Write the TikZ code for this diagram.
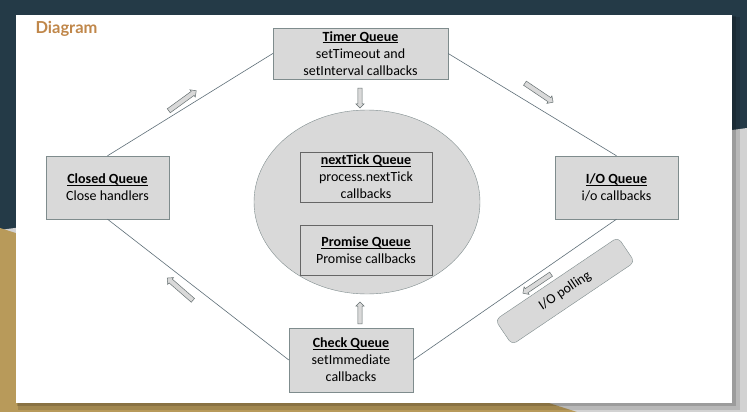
\documentclass[tikz,border=0pt]{standalone}
\usepackage{fontspec}
\setmainfont{Carlito}
\newfontfamily\titlefont{Lato}
\usetikzlibrary{positioning, shapes.geometric, shapes.arrows}
\definecolor{slide_teal}{HTML}{243A47}
\definecolor{slide_gold}{HTML}{B89A5A}
\definecolor{slide_shade}{HTML}{D2D2D2}
\definecolor{title_brown}{HTML}{C0874A}
\definecolor{box_fill}{HTML}{D9D9D9}
\definecolor{box_line}{HTML}{7F8C8D}
\definecolor{link_line}{HTML}{5F6F78}
\newcommand{\qhead}[1]{\setbox0\hbox{\textbf{#1}}\rlap{\rule[-1.6pt]{\wd0}{0.7pt}}\box0}
\tikzstyle{queue} = [rectangle, draw=box_line, fill=box_fill, align=center, inner sep=2pt, font=\fontsize{14}{17}\selectfont]
\tikzstyle{inqueue} = [queue, draw=black!60, minimum width=132pt, minimum height=50pt]
\tikzstyle{link} = [draw=link_line, line width=0.6pt]
\tikzstyle{flow} = [single arrow, draw=box_line!80!black, fill=box_fill, text height=2.2pt, text depth=2.2pt, text width=0pt, minimum width=9pt, single arrow head extend=2pt, single arrow head indent=0pt, inner sep=0pt, minimum height=34pt, line width=0.5pt]
\begin{document}
\begin{tikzpicture}[x=1pt, y=-1pt]
        \useasboundingbox (0,0) rectangle (747,412);
        % slide backdrop
        \fill[slide_teal] (0,0) rectangle (747,412);
        \fill[slide_shade] (0,230) -- (747,128) -- (747,412) -- (0,412) -- cycle;
        \fill[slide_gold] (0,228) -- (577,412) -- (0,412) -- cycle;
        \fill[black, opacity=0.12] (18,17) rectangle (740,410);
        \fill[black, opacity=0.15] (17,16) rectangle (736,406);
        \fill[white] (16,15) rectangle (732,403);
        \node (title) [anchor=west, text=title_brown, font=\titlefont\bfseries\fontsize{16.5}{18}\selectfont] at (32,29) {Diagram};
        % queues of the loop
        \node (timer) [queue, minimum width=175pt, minimum height=51pt] at (360.5,53.5) {\qhead{Timer Queue}\\setTimeout and\\setInterval callbacks};
        \node (closed) [queue, minimum width=123pt, minimum height=63pt] at (107.5,187.5) {\qhead{Closed Queue}\\Close handlers};
        \node (io) [queue, minimum width=123pt, minimum height=63pt] at (616.5,187.5) {\qhead{I/O Queue}\\i/o callbacks};
        \node (check) [queue, minimum width=124pt, minimum height=64pt] at (351,360) {\qhead{Check Queue}\\setImmediate\\callbacks};
        \node (loop) [ellipse, draw=box_line, fill=box_fill, minimum width=226pt, minimum height=184pt] at (367,202) {};
        \node (ticks) [inqueue] at (366,177) {\qhead{nextTick Queue}\\process.nextTick\\callbacks};
        \node (promise) [inqueue] at (366,250.5) {\qhead{Promise Queue}\\Promise callbacks};
        \node (polling) [queue, rounded corners=5pt, rotate=34, minimum width=148pt, minimum height=30pt] at (565,291) {I/O polling};
        \draw [link] (timer.west) -- (closed.north);
        \draw [link] (timer.east) -- (io.north);
        \draw [link] (io.south) -- (check.east);
        \draw [link] (check.west) -- (closed.south);
        % direction marks
        \node (to_timer) [flow, rotate=36] at (181.5,101.5) {};
        \node (to_io) [flow, rotate=-34] at (538,92) {};
        \node (to_check) [flow, rotate=214] at (538,283) {};
        \node (to_closed) [flow, rotate=139] at (181,290) {};
        \node (to_loop) [flow, rotate=-90, minimum height=20pt, minimum width=8pt, text height=1.8pt, text depth=1.8pt] at (360,97) {};
        \node (from_check) [flow, rotate=90, minimum height=22pt, minimum width=8pt, text height=1.8pt, text depth=1.8pt] at (360,314) {};
    \end{tikzpicture}
\end{document}
